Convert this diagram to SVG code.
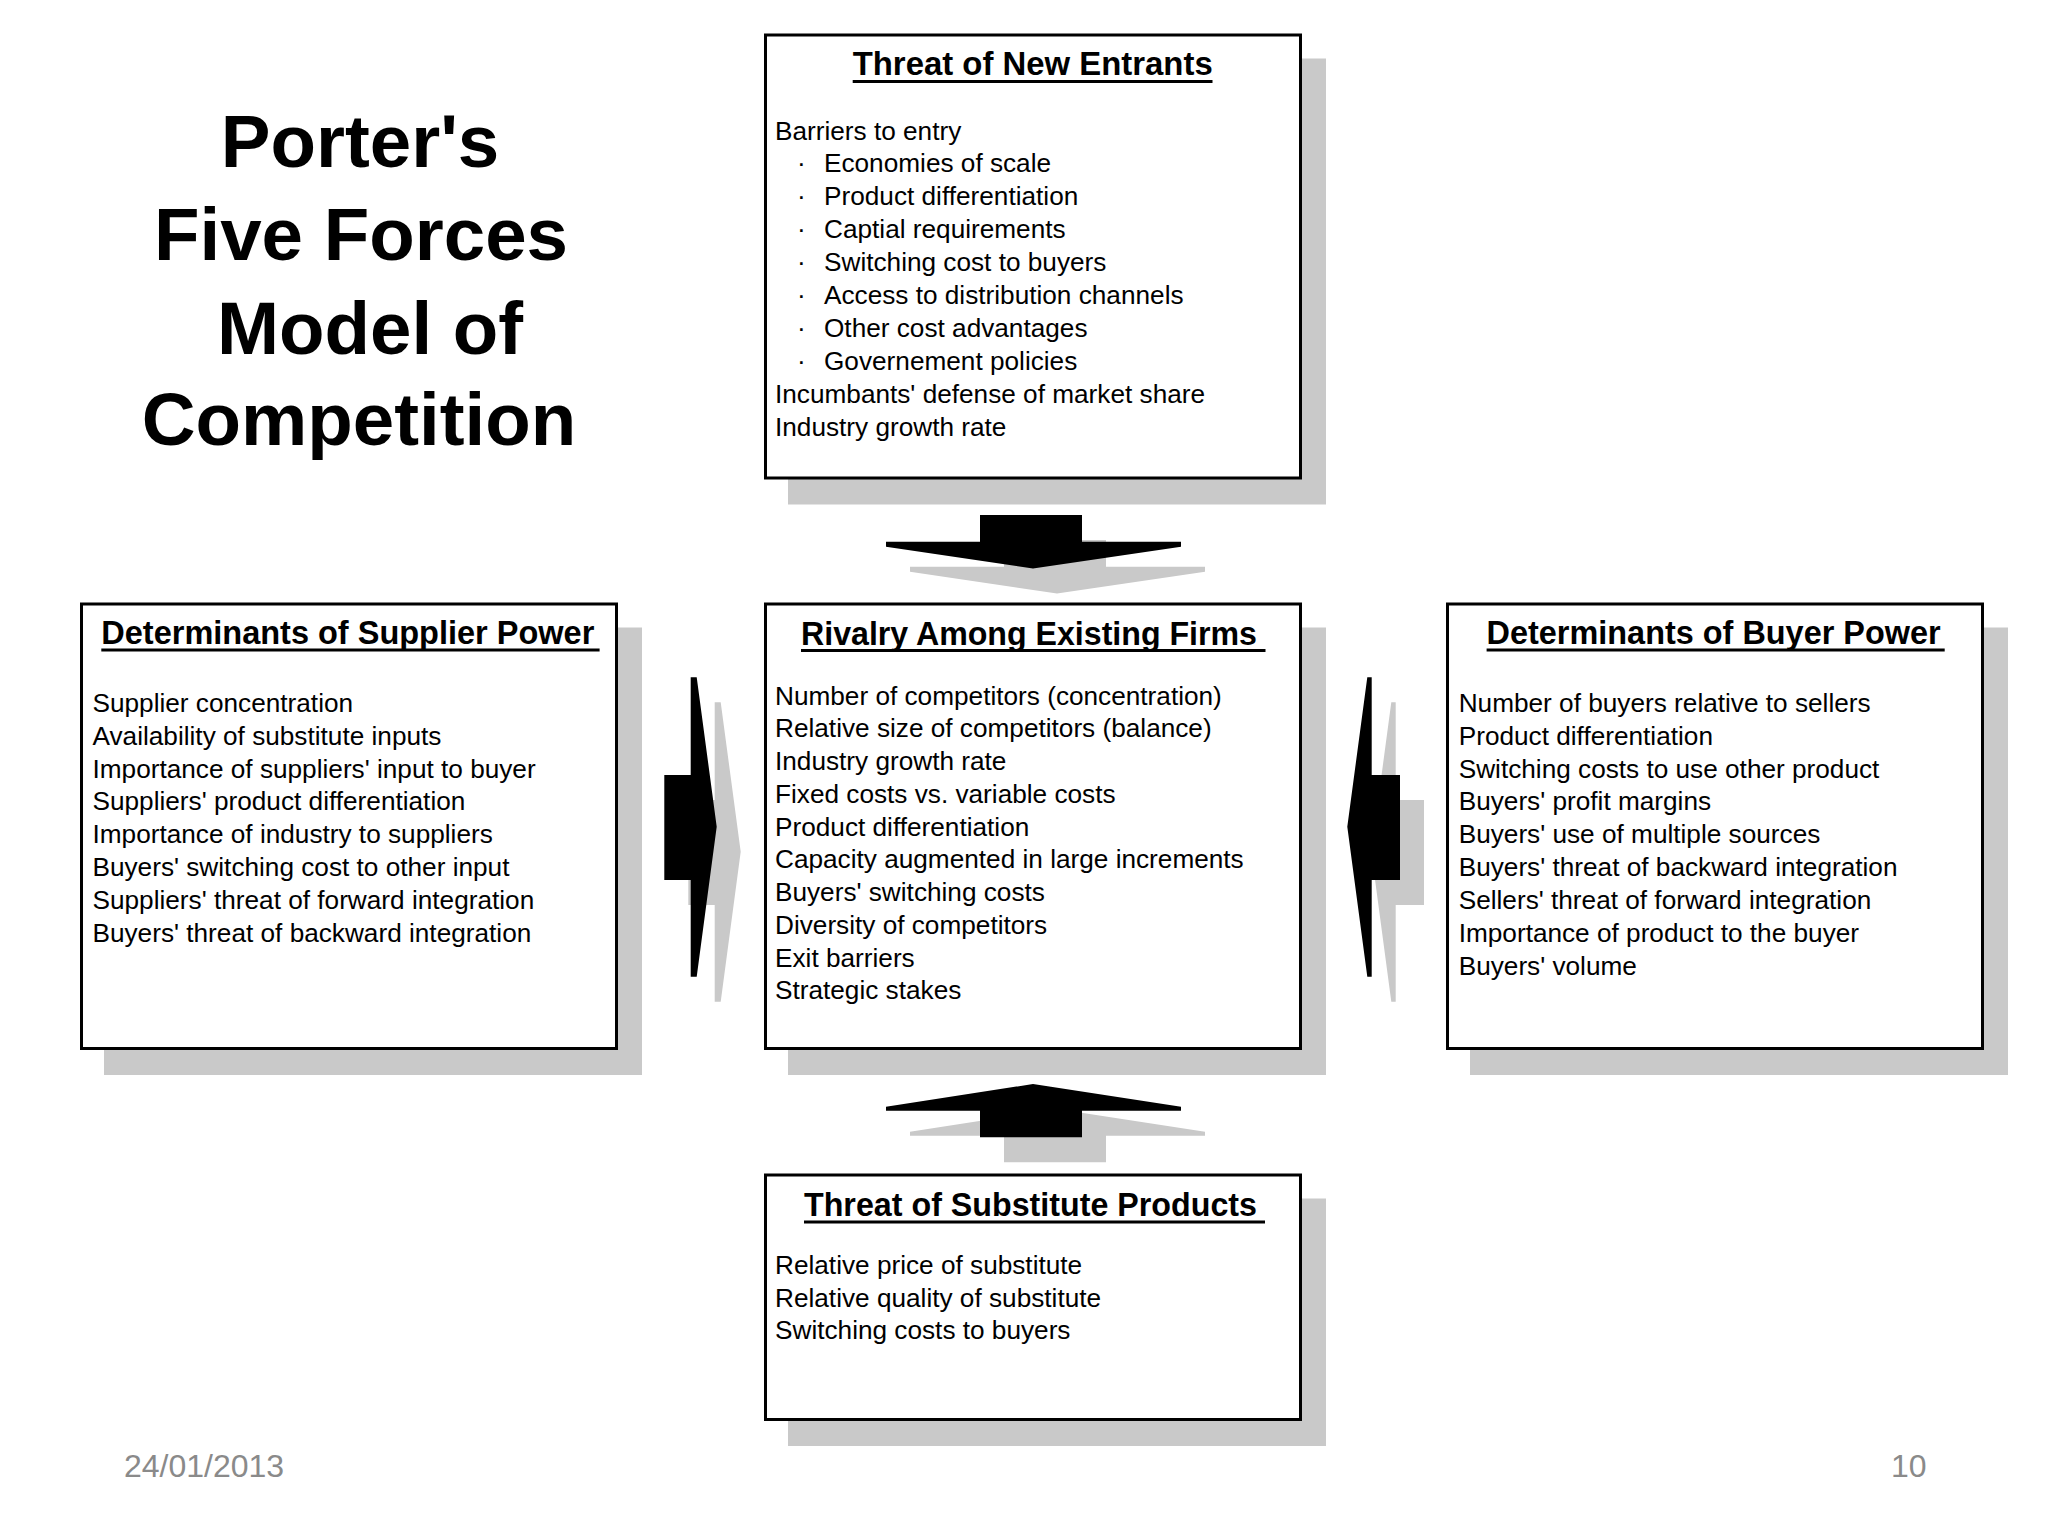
<svg xmlns="http://www.w3.org/2000/svg" width="2048" height="1536" viewBox="0 0 2048 1536">
<style>
.shadow{fill:#c9c9c9}
.box{fill:#fff;stroke:#000;stroke-width:3}
.ttl{font-family:"Liberation Sans",Arial,sans-serif;font-weight:bold;font-size:32.5px;fill:#000}
.ul{stroke:#000;stroke-width:3}
.body{font-family:"Liberation Sans",Arial,sans-serif;font-size:26.2px;fill:#000}
.main{font-family:"Liberation Sans",Arial,sans-serif;font-weight:bold;font-size:74.5px;fill:#000;text-anchor:middle}
.foot{font-family:"Liberation Sans",Arial,sans-serif;font-size:32px;fill:#8a8a8a}
.arr{fill:#000}
.arrs{fill:#c9c9c9}
</style>
<rect width="2048" height="1536" fill="#fff"/>

<g id="title">
<text class="main" x="360" y="167">Porter's</text>
<text class="main" x="361" y="260">Five Forces</text>
<text class="main" x="370" y="354">Model of</text>
<text class="main" x="359" y="445">Competition</text>
</g>

<g id="connectors">
<g transform="translate(24,25)" class="arrs">
<path d="M980,515H1082V541.7H1181V546.7L1033,568.5L886,546.7V541.7H980Z"/>
<path d="M1033,1084L1181,1106.7V1110.7H1082V1137.3H980V1110.7H886V1106.7Z"/>
<path d="M664.3,775H690.7V677.3H696.7L716.7,826.7L696.7,976.7H690.7V880H664.3Z"/>
<path d="M1400,775H1371.7V677.3H1367.3L1347.3,826.7L1367.3,976.7H1371.7V880H1400Z"/>
</g>
<path id="arrow-entrants" class="arr" d="M980,515H1082V541.7H1181V546.7L1033,568.5L886,546.7V541.7H980Z"/>
<path id="arrow-substitutes" class="arr" d="M1033,1084L1181,1106.7V1110.7H1082V1137.3H980V1110.7H886V1106.7Z"/>
<path id="arrow-suppliers" class="arr" d="M664.3,775H690.7V677.3H696.7L716.7,826.7L696.7,976.7H690.7V880H664.3Z"/>
<path id="arrow-buyers" class="arr" d="M1400,775H1371.7V677.3H1367.3L1347.3,826.7L1367.3,976.7H1371.7V880H1400Z"/>
</g>

<g id="new-entrants">
<rect class="shadow" x="788" y="58.5" width="538" height="446"/>
<rect class="box" x="765.5" y="35" width="535" height="443"/>
<text class="ttl" x="852.7" y="75" textLength="360" lengthAdjust="spacingAndGlyphs">Threat of New Entrants</text>
<line class="ul" x1="852.7" y1="81.5" x2="1212.5" y2="81.5"/>
<g class="body">
<text x="775" y="139.5">Barriers to entry</text>
<text x="797" y="172.4">·</text><text x="824" y="172.4">Economies of scale</text>
<text x="797" y="205.3">·</text><text x="824" y="205.3">Product differentiation</text>
<text x="797" y="238.2">·</text><text x="824" y="238.2">Captial requirements</text>
<text x="797" y="271.1">·</text><text x="824" y="271.1">Switching cost to buyers</text>
<text x="797" y="304">·</text><text x="824" y="304">Access to distribution channels</text>
<text x="797" y="336.9">·</text><text x="824" y="336.9">Other cost advantages</text>
<text x="797" y="369.8">·</text><text x="824" y="369.8">Governement policies</text>
<text x="775" y="402.7">Incumbants' defense of market share</text>
<text x="775" y="435.6">Industry growth rate</text>
</g>
</g>

<g id="rivalry">
<rect class="shadow" x="788" y="627.5" width="538" height="447.5"/>
<rect class="box" x="765.5" y="604" width="535" height="444.5"/>
<text class="ttl" x="801" y="644.7" textLength="456" lengthAdjust="spacingAndGlyphs">Rivalry Among Existing Firms</text>
<line class="ul" x1="801" y1="650.5" x2="1265.5" y2="650.5"/>
<g class="body">
<text x="775" y="704.7">Number of competitors (concentration)</text>
<text x="775" y="737.4">Relative size of competitors (balance)</text>
<text x="775" y="770.2">Industry growth rate</text>
<text x="775" y="802.9">Fixed costs vs. variable costs</text>
<text x="775" y="835.7">Product differentiation</text>
<text x="775" y="868.4">Capacity augmented in large increments</text>
<text x="775" y="901.2">Buyers' switching costs</text>
<text x="775" y="933.9">Diversity of competitors</text>
<text x="775" y="966.7">Exit barriers</text>
<text x="775" y="999.4">Strategic stakes</text>
</g>
</g>

<g id="supplier-power">
<rect class="shadow" x="104" y="627.5" width="538" height="447.5"/>
<rect class="box" x="81.5" y="604" width="535" height="444.5"/>
<text class="ttl" x="101.3" y="644" textLength="493" lengthAdjust="spacingAndGlyphs">Determinants of Supplier Power</text>
<line class="ul" x1="101.3" y1="650" x2="599.6" y2="650"/>
<g class="body">
<text x="92.5" y="711.7">Supplier concentration</text>
<text x="92.5" y="744.6">Availability of substitute inputs</text>
<text x="92.5" y="777.5">Importance of suppliers' input to buyer</text>
<text x="92.5" y="810.4">Suppliers' product differentiation</text>
<text x="92.5" y="843.3">Importance of industry to suppliers</text>
<text x="92.5" y="876.2">Buyers' switching cost to other input</text>
<text x="92.5" y="909.1">Suppliers' threat of forward integration</text>
<text x="92.5" y="942">Buyers' threat of backward integration</text>
</g>
</g>

<g id="buyer-power">
<rect class="shadow" x="1470" y="627.5" width="538" height="447.5"/>
<rect class="box" x="1447.5" y="604" width="535" height="444.5"/>
<text class="ttl" x="1486.6" y="644" textLength="454" lengthAdjust="spacingAndGlyphs">Determinants of Buyer Power</text>
<line class="ul" x1="1486.6" y1="650" x2="1944.7" y2="650"/>
<g class="body">
<text x="1458.7" y="711.7">Number of buyers relative to sellers</text>
<text x="1458.7" y="744.6">Product differentiation</text>
<text x="1458.7" y="777.5">Switching costs to use other product</text>
<text x="1458.7" y="810.4">Buyers' profit margins</text>
<text x="1458.7" y="843.3">Buyers' use of multiple sources</text>
<text x="1458.7" y="876.2">Buyers' threat of backward integration</text>
<text x="1458.7" y="909.1">Sellers' threat of forward integration</text>
<text x="1458.7" y="942">Importance of product to the buyer</text>
<text x="1458.7" y="974.9">Buyers' volume</text>
</g>
</g>

<g id="substitutes">
<rect class="shadow" x="788" y="1198.5" width="538" height="247.5"/>
<rect class="box" x="765.5" y="1175" width="535" height="244.5"/>
<text class="ttl" x="804" y="1216" textLength="453" lengthAdjust="spacingAndGlyphs">Threat of Substitute Products</text>
<line class="ul" x1="804" y1="1222" x2="1265" y2="1222"/>
<g class="body">
<text x="775" y="1273.7">Relative price of substitute</text>
<text x="775" y="1306.5">Relative quality of substitute</text>
<text x="775" y="1339.3">Switching costs to buyers</text>
</g>
</g>

<g id="footer">
<text class="foot" x="124" y="1477">24/01/2013</text>
<text class="foot" x="1891" y="1477">10</text>
</g>
</svg>
